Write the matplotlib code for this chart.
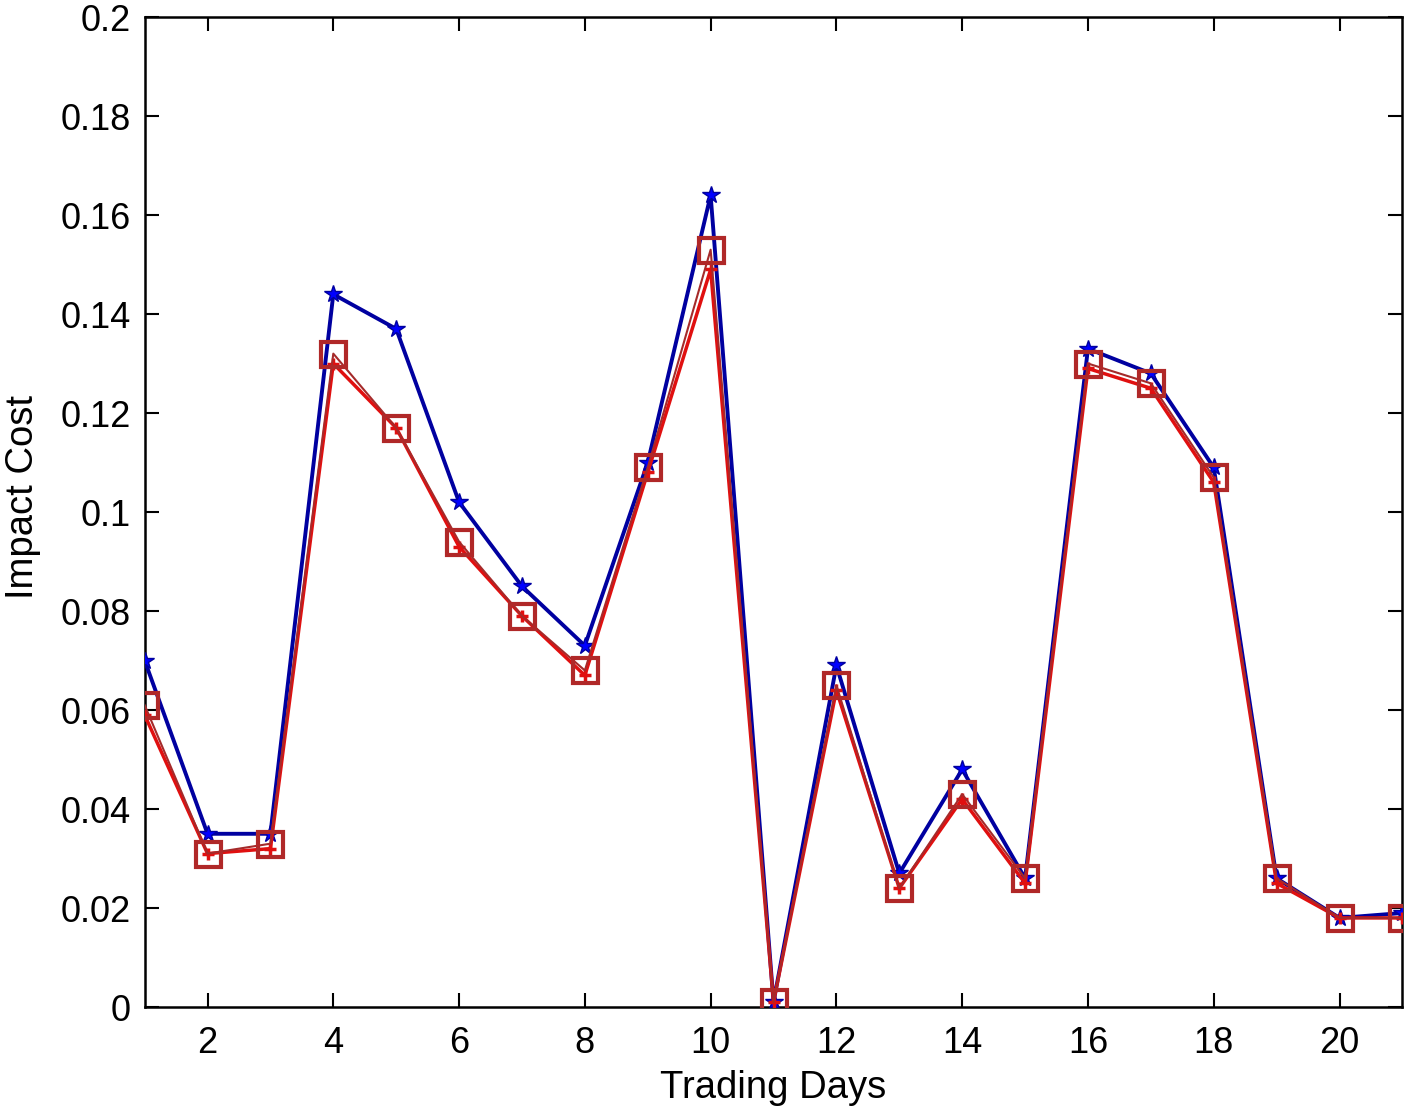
import matplotlib
matplotlib.use("Agg")
import matplotlib.pyplot as plt
from matplotlib.ticker import FuncFormatter

days = list(range(1, 22))
blue_star = [0.070, 0.035, 0.035, 0.144, 0.137, 0.102, 0.085, 0.073, 0.110, 0.164,
             0.001, 0.069, 0.027, 0.048, 0.026, 0.133, 0.128, 0.109, 0.026, 0.018, 0.019]
red_plus = [0.059, 0.031, 0.032, 0.130, 0.117, 0.093, 0.079, 0.067, 0.108, 0.149,
            0.001, 0.064, 0.024, 0.042, 0.025, 0.129, 0.125, 0.106, 0.025, 0.018, 0.018]
brown_square = [0.061, 0.031, 0.033, 0.132, 0.117, 0.094, 0.079, 0.068, 0.109, 0.153,
                0.001, 0.065, 0.024, 0.043, 0.026, 0.130, 0.126, 0.107, 0.026, 0.018, 0.018]

plt.rcParams['font.family'] = ['Liberation Sans', 'DejaVu Sans']

fig = plt.figure(figsize=(14.18, 11.13), dpi=100)
ax = fig.add_axes([0.102, 0.0952, 0.887, 0.8895])

ax.plot(days, blue_star, color='#0000A0', lw=2.8, marker='*', ms=13,
        mfc='#0000FF', mec='#0000A0', zorder=3)
ax.plot(days, red_plus, color='#E01010', lw=2.5, marker='+', ms=9, mew=2.5,
        zorder=4)
ax.plot(days, brown_square, color='#A52A2A', lw=1.5, marker='s', ms=18,
        mfc='none', mec='#B02828', mew=3, zorder=5)

ax.set_xlim(1, 21)
ax.set_ylim(0, 0.2)
ax.set_xticks(range(2, 21, 2))
ax.set_yticks([i * 0.02 for i in range(11)])
ax.yaxis.set_major_formatter(FuncFormatter(lambda v, p: '%g' % round(v, 2)))
ax.tick_params(direction='in', length=10, width=1.5, labelsize=26,
               top=True, right=True)
ax.tick_params(axis='x', pad=14)
ax.tick_params(axis='y', pad=10)
for s in ax.spines.values():
    s.set_linewidth(1.8)
ax.set_xlabel('Trading Days', fontsize=27.5, labelpad=6)
ax.set_ylabel('Impact Cost', fontsize=27.5, labelpad=14)
ax.yaxis.label.set_y(0.515)

fig.savefig('out.png', dpi=100)
